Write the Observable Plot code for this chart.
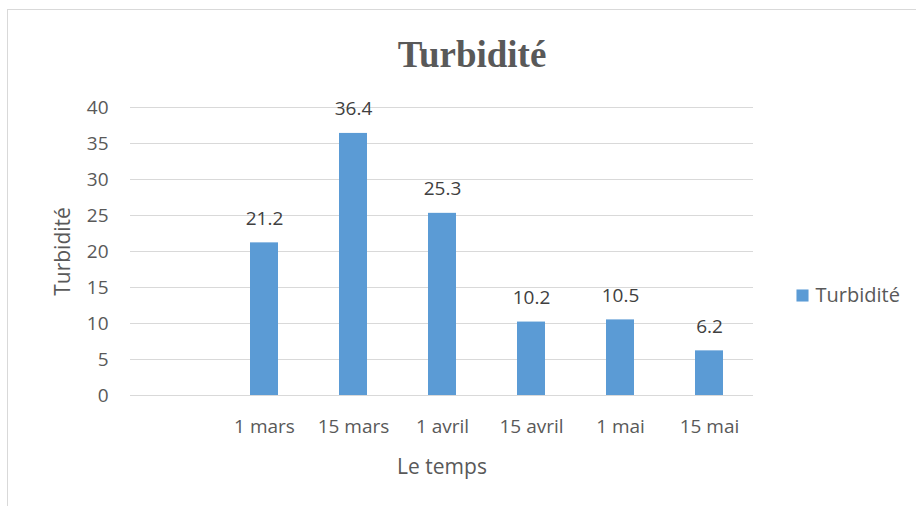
<!DOCTYPE html>
<html>
<head>
<meta charset="utf-8">
<script src="https://cdn.jsdelivr.net/npm/d3@7"></script>
<script src="https://cdn.jsdelivr.net/npm/@observablehq/plot@0.6"></script>
<style>
  body { margin: 0; background: #fff; }
  #wrap { position: relative; width: 916px; height: 506px; overflow: hidden; background: #fff; }
  #border { position: absolute; left: 7px; top: 9px; width: 980px; height: 600px; border: 1px solid #d9d9d9; box-sizing: border-box; }
  #chart { position: absolute; left: 0; top: 0; }
</style>
</head>
<body>
<div id="wrap"><div id="border"></div><div id="chart"></div></div>
<script>
const categories = ["", "1 mars", "15 mars", "1 avril", "15 avril", "1 mai", "15 mai"];
const values = [null, 21.2, 36.4, 25.3, 10.2, 10.5, 6.2];
const yTicks = [0, 5, 10, 15, 20, 25, 30, 35, 40];
const title = "Turbidité";
const seriesName = "Turbidité";
const xLabel = "Le temps";
const yLabel = "Turbidité";

const data = categories
  .map((c, i) => ({category: c, value: values[i]}))
  .filter(d => d.value != null);

const chart = Plot.plot({
  width: 916,
  height: 506,
  marginLeft: 130,
  marginRight: 163,
  marginTop: 107,
  marginBottom: 111,
  style: {fontFamily: "'Open Sans', sans-serif", fontSize: "19px", background: "transparent", overflow: "visible"},
  x: {domain: categories, paddingInner: 0.69, paddingOuter: 0.345, align: 0.5, label: null},
  y: {domain: [0, 40], label: null},
  marks: [
    Plot.gridY(yTicks, {stroke: "#d9d9d9", strokeOpacity: 1, strokeWidth: 1}),
    Plot.barY(data, {x: "category", y: "value", fill: "#5b9bd5"}),
    Plot.text(data, {x: "category", y: "value", text: d => d.value.toFixed(1), dy: -18, lineAnchor: "bottom", fontSize: 19, fill: "#404040"}),
    Plot.axisY(yTicks, {tickSize: 0, tickPadding: 22, fontSize: 19, fill: "#595959", label: null}),
    Plot.axisX({tickSize: 0, tickPadding: 24, fontSize: 19, fill: "#595959", label: null, tickFormat: d => d}),
    Plot.text([yLabel], {frameAnchor: "left", dx: -67, rotate: -90, fontSize: 21, fill: "#595959", lineAnchor: "middle", textAnchor: "middle"}),
    Plot.text([xLabel], {frameAnchor: "bottom", dy: 78, lineAnchor: "bottom", fontSize: 21, fill: "#595959"}),
    Plot.text([title], {frameAnchor: "top", dx: 30, dy: -41, lineAnchor: "bottom", fontFamily: "'Liberation Serif', serif", fontWeight: "bold", fontSize: 37, fill: "#595959"}),
    Plot.dot([seriesName], {frameAnchor: "right", dx: 49, dy: 44, symbol: "square", r: 6.8, fill: "#5b9bd5", stroke: null}),
    Plot.text([seriesName], {frameAnchor: "right", dx: 62, dy: 44, textAnchor: "start", lineAnchor: "middle", fontSize: 20, fill: "#595959"})
  ]
});
document.getElementById("chart").appendChild(chart);
</script>
</body>
</html>
